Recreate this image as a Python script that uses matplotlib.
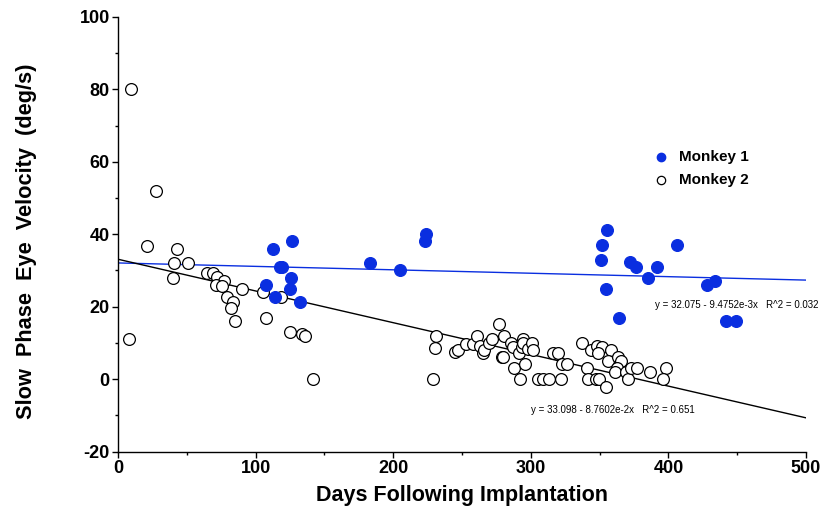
import matplotlib
matplotlib.use("Agg")
import matplotlib.pyplot as plt
from matplotlib.ticker import MultipleLocator
import numpy as np

plt.rcParams['font.family'] = ['Liberation Sans', 'DejaVu Sans']
plt.rcParams['axes.unicode_minus'] = False

# Monkey 1 (filled blue)
m1_days = [112.4, 126.7, 117.7, 119.2, 126.0, 107.3, 125.2, 114.3, 132.3,
           183.1, 204.9, 223.6, 222.9, 355.1, 351.7, 351.0, 354.7, 364.3,
           372.1, 376.5, 391.5, 385.2, 406.5, 427.8, 433.9, 441.9, 449.1]
m1_vel = [35.9, 38.0, 30.9, 30.9, 27.9, 25.9, 24.9, 22.8, 21.2,
          32.1, 30.0, 40.2, 38.0, 41.1, 36.9, 33.0, 24.9, 16.9,
          32.2, 30.9, 30.9, 27.9, 36.9, 25.9, 27.0, 16.1, 16.1]

# Monkey 2 (open circles)
m2_days = [9.5, 8.2, 27.6, 21.3, 43.1, 40.9, 51.1, 40.2, 64.4, 69.3, 72.2, 77.0,
           71.0, 75.8, 90.1, 79.2, 83.8, 82.1, 85.3, 105.4, 118.7, 107.3, 125.2,
           133.5, 135.7, 141.5, 231.1, 230.4, 228.7,
           244.9, 246.9, 252.7, 258.2, 261.1, 263.1, 265.0, 266.0, 269.9, 272.0,
           277.1, 280.5, 278.8, 279.6, 285.6, 286.8, 291.6, 293.4, 294.6, 294.6,
           298.2, 301.1, 301.8, 287.8, 295.5, 292.2, 305.0, 309.1, 313.4, 316.4,
           320.0, 322.4, 326.5, 322.0, 337.0, 340.6, 341.3, 343.8, 347.9, 351.5,
           349.1, 347.2, 349.8, 354.4, 358.3, 356.3, 363.1, 365.5, 362.4, 361.2,
           369.2, 370.4, 372.6, 377.4, 386.6, 398.5, 396.3]
m2_vel = [80.0, 11.0, 52.0, 36.8, 35.9, 32.1, 32.1, 27.9, 29.2, 29.2, 28.1, 27.2,
          25.9, 25.7, 24.9, 22.8, 21.2, 19.7, 16.0, 24.0, 22.8, 16.9, 13.1,
          12.4, 11.9, 0.0, 11.9, 8.6, 0.0,
          7.4, 8.0, 9.6, 9.8, 12.0, 9.1, 7.1, 8.0, 10.1, 11.0,
          15.2, 12.0, 6.0, 6.2, 9.9, 8.9, 7.3, 8.9, 11.0, 10.0,
          8.2, 10.1, 8.0, 3.0, 4.3, 0.0, 0.0, 0.0, 0.0, 7.1,
          7.1, 4.1, 4.1, 0.0, 10.1, 3.0, 0.0, 8.0, 9.1, 8.9,
          7.1, 0.0, 0.0, -2.1, 8.0, 5.1, 6.0, 5.1, 3.0, 2.0,
          2.0, 0.0, 3.0, 3.0, 2.0, 3.0, 0.0]

# Regression fits (as printed on the chart)
fit1_intercept, fit1_slope, fit1_r2 = 32.075, -9.4752e-3, 0.032
fit2_intercept, fit2_slope, fit2_r2 = 33.098, -8.7602e-2, 0.651
fit_x = [0, 500]

blue = '#0a2ee0'

fig = plt.figure(figsize=(8.21, 5.15), dpi=100)
ax = fig.add_axes([0.1437, 0.1233, 0.8380, 0.8437])

fx = np.array(fit_x)
ax.plot(fx, fit1_intercept + fit1_slope * fx, color=blue, lw=1.0, zorder=2)
ax.plot(fx, fit2_intercept + fit2_slope * fx, color='black', lw=1.0, zorder=2)

ax.scatter(m2_days, m2_vel, s=72, facecolors='white', edgecolors='black',
           linewidths=0.9, zorder=3)
ax.scatter(m1_days, m1_vel, s=72, facecolors=blue, edgecolors=blue,
           linewidths=0.9, zorder=4)

ax.set_xlim(0, 500)
ax.set_ylim(-20, 100)
ax.xaxis.set_major_locator(MultipleLocator(100))
ax.xaxis.set_minor_locator(MultipleLocator(50))
ax.yaxis.set_major_locator(MultipleLocator(20))
ax.yaxis.set_minor_locator(MultipleLocator(10))
for s in ['top', 'right']:
    ax.spines[s].set_visible(False)
for s in ['left', 'bottom']:
    ax.spines[s].set_linewidth(1.0)
ax.tick_params(which='major', direction='out', length=4, width=1, labelsize=13, pad=2)
ax.tick_params(which='minor', direction='out', length=2.5, width=1)
for lab in ax.get_xticklabels() + ax.get_yticklabels():
    lab.set_fontweight('bold')

ax.set_xlabel('Days Following Implantation', fontsize=15.5, fontweight='bold', labelpad=6)
ax.set_ylabel('Slow  Phase  Eye  Velocity  (deg/s)', fontsize=15.7, fontweight='bold')
ax.yaxis.set_label_coords(-0.117, 0.485)

# Legend
ax.scatter([395], [61.2], s=36, facecolors=blue, edgecolors=blue, zorder=5, clip_on=False)
ax.scatter([395], [54.9], s=36, facecolors='white', edgecolors='black', linewidths=0.9,
           zorder=5, clip_on=False)
ax.text(408, 61.2, 'Monkey 1', fontsize=11, fontweight='bold', va='center', ha='left')
ax.text(408, 54.9, 'Monkey 2', fontsize=11, fontweight='bold', va='center', ha='left')

ax.text(390, 20.5, 'y = 32.075 - 9.4752e-3x   R^2 = 0.032', fontsize=7, va='center', ha='left')
ax.text(300, -8.5, 'y = 33.098 - 8.7602e-2x   R^2 = 0.651', fontsize=7, va='center', ha='left')

fig.savefig('out.png', dpi=100)
